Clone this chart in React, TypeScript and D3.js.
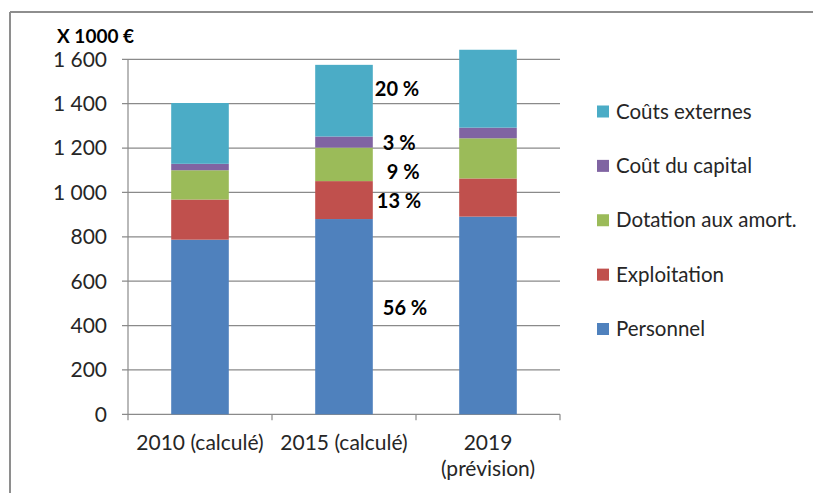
import React from "react";
import * as d3 from "d3";

const categories = ["2010 (calculé)", "2015 (calculé)", "2019 (prévision)"];
const categoryLines = [["2010 (calculé)"], ["2015 (calculé)"], ["2019", "(prévision)"]];

const seriesNames = ["Personnel", "Exploitation", "Dotation aux amort.", "Coût du capital", "Coûts externes"];
const personnel = [787, 880, 891];
const exploitation = [181, 171, 172];
const dotation = [132, 151, 181];
const capital = [29, 50, 48];
const externes = [274, 323, 351];
const seriesColors = ["#4F81BD", "#C0504D", "#9BBB59", "#8064A2", "#4BACC6"];

const yTicks = [0, 200, 400, 600, 800, 1000, 1200, 1400, 1600];
const yTickLabels = ["0", "200", "400", "600", "800", "1 000", "1 200", "1 400", "1 600"];

// annotation labels next to the 2015 bar (value = vertical anchor in data units)
const pctLabels = ["56 %", "13 %", "9 %", "3 %", "20 %"];
const pctAnchors = [478, 963, 1094, 1225, 1468];
const pctDx = [10, 4, 14, 10, 2];

const FONT = "Lato, 'Open Sans', sans-serif";

export default function App() {
  const W = 813, H = 493;
  const x = d3.scaleBand<string>().domain(categories).range([128, 560]).paddingInner(0.6).paddingOuter(0.3);
  const y = d3.scaleLinear().domain([0, 1600]).range([414.3, 59.3]);

  const values = [personnel, exploitation, dotation, capital, externes];
  const rows = categories.map((c, i) => {
    const r: any = { cat: c };
    seriesNames.forEach((s, k) => (r[s] = values[k][i]));
    return r;
  });
  const stacked = d3.stack().keys(seriesNames)(rows);

  const step = x.step();
  const x0 = x.range()[0];
  const boundaries = d3.range(categories.length + 1).map((i) => x0 + i * step);

  const legendOrder = [4, 3, 2, 1, 0];
  const legendY = d3.scalePoint<number>().domain(legendOrder).range([111.5, 329]);

  const bar2Right = (x(categories[1]) as number) + x.bandwidth();

  return (
    <svg width={W} height={H} style={{ position: "absolute", left: 0, top: 0, background: "#fff" }} fontFamily={FONT}>
      <rect x={0} y={0} width={W} height={H} fill="#fff" />
      {/* frame */}
      <line x1={10} y1={12} x2={W} y2={12} stroke="#8e8e8e" strokeWidth={2} />
      <line x1={10} y1={12} x2={10} y2={H} stroke="#8e8e8e" strokeWidth={2} />

      {/* gridlines */}
      {yTicks.map((t) => (
        <line key={"g" + t} x1={122} x2={560} y1={y(t)} y2={y(t)} stroke="#8a8a8a" strokeWidth={1.2} />
      ))}
      {/* y axis */}
      <line x1={128} x2={128} y1={y(1600)} y2={y(0)} stroke="#8a8a8a" strokeWidth={1.2} />
      {/* x ticks */}
      {boundaries.map((b, i) => (
        <line key={"xt" + i} x1={b} x2={b} y1={y(0)} y2={y(0) + 6} stroke="#8a8a8a" strokeWidth={1.2} />
      ))}

      {/* bars */}
      {stacked.map((layer, k) => (
        <g key={layer.key} fill={seriesColors[k]}>
          {layer.map((d, i) => (
            <rect
              key={i}
              x={x(categories[i])}
              width={x.bandwidth()}
              y={y(d[1])}
              height={y(d[0]) - y(d[1])}
            />
          ))}
        </g>
      ))}

      {/* y tick labels */}
      {yTicks.map((t, i) => (
        <text key={"yl" + t} x={107} y={y(t)} dy="0.35em" textAnchor="end" fontSize={21} fill="#262626">
          {yTickLabels[i]}
        </text>
      ))}
      <text x={57} y={36} dy="0.35em" fontSize={19} fontWeight="bold" fill="#000">
        X 1000 €
      </text>

      {/* x labels */}
      {categoryLines.map((lines, i) => (
        <text
          key={"xl" + i}
          x={(x(categories[i]) as number) + x.bandwidth() / 2}
          y={443}
          textAnchor="middle"
          fontSize={21}
          fill="#262626"
        >
          {lines.map((l, j) => (
            <tspan key={j} x={(x(categories[i]) as number) + x.bandwidth() / 2} dy={j === 0 ? "0.35em" : 26}>
              {l}
            </tspan>
          ))}
        </text>
      ))}

      {/* percentage labels */}
      {pctLabels.map((l, i) => (
        <text key={"p" + i} x={bar2Right + pctDx[i]} y={y(pctAnchors[i])} dy="0.35em" fontSize={20} fontWeight="bold" fill="#000">
          {l}
        </text>
      ))}

      {/* legend */}
      {legendOrder.map((k) => (
        <g key={"lg" + k} transform={`translate(597, ${legendY(k)})`}>
          <rect x={0} y={-6} width={12} height={12} fill={seriesColors[k]} />
          <text x={19} y={0} dy="0.35em" fontSize={20.5} fill="#262626">
            {seriesNames[k]}
          </text>
        </g>
      ))}
    </svg>
  );
}
